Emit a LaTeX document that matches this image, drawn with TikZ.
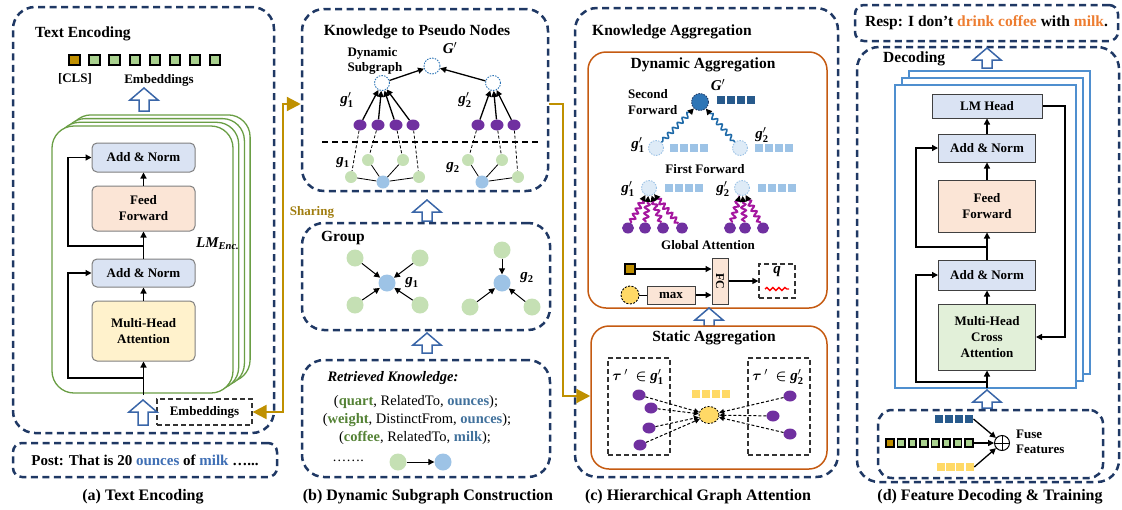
\documentclass[tikz,border=0pt]{standalone}
\usepackage{amsmath,bm}
\usepackage{fontspec}
\setmainfont{Liberation Serif}
\usetikzlibrary{arrows.meta,shapes.geometric,decorations.pathmorphing,calc}
\definecolor{navy}{HTML}{1F3864}
\definecolor{gold}{HTML}{BF9000}
\definecolor{goldtxt}{HTML}{A07D10}
\definecolor{encgreen}{HTML}{6A9E45}
\definecolor{decblue}{HTML}{4F8FCF}
\definecolor{fillblue}{HTML}{DAE3F3}
\definecolor{fillpeach}{HTML}{FBE5D6}
\definecolor{fillyellow}{HTML}{FFF2CC}
\definecolor{fillgreen}{HTML}{E2F0D9}
\definecolor{ngreen}{HTML}{C5E0B4}
\definecolor{nblue}{HTML}{9DC3E6}
\definecolor{nlight}{HTML}{DEEBF7}
\definecolor{npurple}{HTML}{7030A0}
\definecolor{magwave}{HTML}{A5169F}
\definecolor{wavblue}{HTML}{1F6AA8}
\definecolor{orangebox}{HTML}{C55A11}
\definecolor{txtblue}{HTML}{3E6EB4}
\definecolor{txtblueb}{HTML}{41719C}
\definecolor{txtgreen}{HTML}{548235}
\definecolor{txtorange}{HTML}{ED7D31}
\definecolor{embgreen}{HTML}{A9D18E}
\definecolor{sqgold}{HTML}{BF8F00}
\definecolor{sqdark}{HTML}{285A8C}
\definecolor{sqlight}{HTML}{9DC3E6}
\definecolor{sqyellow}{HTML}{FFD966}
\definecolor{gpblue}{HTML}{2E75B6}
\definecolor{arrowblue}{HTML}{3A66A8}
\newcommand\fs[2]{\fontsize{#1}{#2}\selectfont}
\newcommand\gp[1]{{\bfseries\itshape g}$^{\prime}_{\mathbf{#1}}$}
\newcommand\gs[1]{{\bfseries\itshape g}$_{\mathbf{#1}}$}
\newcommand\hollowup[3]{\draw[harrow] ({#1-5},{#2}) -- ({#1-5},{#3+12}) -- ({#1-14},{#3+12}) -- ({#1},{#3}) -- ({#1+14},{#3+12}) -- ({#1+5},{#3+12}) -- ({#1+5},{#2}) -- cycle;}
\tikzset{
  panelbox/.style={draw=navy, line width=2.5pt, dash pattern=on 7pt off 4.5pt, rounded corners=22pt, inner sep=0pt},
  tbox/.style={panelbox, rounded corners=9pt},
  ttl/.style={font=\fs{15.5}{18}\bfseries, inner sep=0pt},
  captxt/.style={font=\fs{16}{19}\bfseries, inner sep=0pt},
  lbl/.style={font=\fs{13}{15.5}\bfseries, inner sep=0pt, align=center},
  glbl/.style={font=\fs{15}{17}, inner sep=0pt},
  blk/.style={draw=black!50, line width=1pt, rounded corners=5pt, align=center, font=\fs{13}{16}\bfseries, inner sep=0pt},
  dblk/.style={draw=black!75, line width=1pt, align=center, font=\fs{13}{16}\bfseries, inner sep=0pt},
  arr/.style={-{Triangle[length=6pt,width=6pt]}, line width=1.3pt},
  darr/.style={-{Triangle[length=5pt,width=5pt]}, line width=1pt, dash pattern=on 3pt off 2pt},
  emb/.style={draw=black, line width=2pt, minimum size=10.5pt, inner sep=0pt, fill=embgreen},
  smemb/.style={emb, line width=1.8pt, minimum size=7.5pt},
  sqr/.style={minimum size=8pt, inner sep=0pt},
  enclayer/.style={draw=encgreen, line width=1.3pt, rounded corners=22pt, fill=white},
  declayer/.style={draw=decblue, line width=1.8pt, fill=white},
  dcirc/.style={circle, draw=gpblue, dash pattern=on 1.5pt off 1.2pt, line width=0.9pt, fill=white, minimum size=15pt, inner sep=0pt},
  pnode/.style={ellipse, fill=npurple, minimum width=13pt, minimum height=11pt, inner sep=0pt},
  gnode/.style={circle, fill=ngreen, minimum size=12pt, inner sep=0pt},
  bnode/.style={circle, fill=nblue, minimum size=13pt, inner sep=0pt},
  harrow/.style={draw=arrowblue, line width=1.5pt, fill=white, line join=miter},
  goldline/.style={draw=gold, line width=2.2pt},
  dashbox/.style={draw=black!80, line width=1.3pt, dash pattern=on 5pt off 3pt, inner sep=0pt},
  obox/.style={draw=orangebox, line width=1.5pt, rounded corners=18pt, inner sep=0pt},
  wavb/.style={decorate, decoration={snake, amplitude=2.2pt, segment length=7pt, post length=5pt, pre length=2pt}, draw=wavblue, line width=1.6pt},
  wavm/.style={decorate, decoration={snake, amplitude=2.3pt, segment length=6pt, post length=5pt, pre length=1pt}, draw=magwave, line width=2pt},
  blacktip/.style={-{Triangle[length=6pt,width=6pt,color=black]}},
}
\begin{document}
\begin{tikzpicture}[x=1pt,y=-1pt]
\useasboundingbox (0,0) rectangle (1122,509);
% ================= (a) =================
\node[panelbox, minimum width=261pt, minimum height=426pt] (panA) at (143.5,220) {};
\node[ttl, anchor=west] (tA) at (35,34) {Text Encoding};
\node[emb, fill=sqgold] (ea0) at (74.5,60) {};
\foreach \i in {1,...,7} \node[emb] (ea\i) at ({74.5+20.1*\i},60) {};
\node[lbl] (clsl) at (75,79) {[CLS]};
\node[lbl] (embl) at (159,80) {Embeddings};
\hollowup{144}{111}{88}
\foreach \k in {3,2,1,0} \draw[enclayer] ({52+5.7*\k},{126-3.7*\k}) rectangle ({233+5.7*\k},{393-3.7*\k});
\node[blk, fill=fillblue, minimum width=103pt, minimum height=29pt] (an2) at (143.5,157.5) {Add \& Norm};
\node[blk, fill=fillpeach, minimum width=103pt, minimum height=45pt] (ff) at (143.5,208.5) {Feed\\Forward};
\node[blk, fill=fillblue, minimum width=103pt, minimum height=28pt] (an1) at (143.5,273) {Add \& Norm};
\node[blk, fill=fillyellow, minimum width=103pt, minimum height=60pt] (mha) at (143.5,331) {Multi-Head\\Attention};
\coordinate (inA) at (143.5,395);
\coordinate (rA1) at (143.5,378);
\coordinate (rA2) at (143.5,246);
\draw[arr] (inA) -- (mha);
\draw[arr] (mha) -- (an1);
\draw[arr] (an1) -- (ff);
\draw[arr] (ff) -- (an2);
\draw[arr] (rA1) -- ++(-75.5,0) |- (an1.west);
\draw[arr] (rA2) -- ++(-75.5,0) |- (an2.west);
\node[anchor=west, font=\fs{15}{18}, inner sep=0pt] (lmenc) at (196,244) {{\bfseries\itshape LM}$_{\textbf{\textit{Enc.}}}$};
\node[dashbox, minimum width=95pt, minimum height=26pt, font=\fs{13}{15}\bfseries] (embbox) at (204.5,412) {Embeddings};
\hollowup{143}{425}{400}
\node[tbox, minimum width=264pt, minimum height=34pt, font=\fs{15}{18}\bfseries] (post) at (145,460) {Post: That is 20 \textcolor{txtblue}{ounces} of \textcolor{txtblue}{milk} …...};
\node[captxt] (capA) at (143,497) {(a) Text Encoding};
% ================= (b) =================
\node[panelbox, minimum width=246pt, minimum height=182pt] (kbox) at (425,100) {};
\node[ttl] (tB) at (417,32) {Knowledge to Pseudo Nodes};
\node[glbl] (Gpl) at (450,48) {{\bfseries\itshape G}$^{\prime}$};
\node[dcirc, minimum size=16pt] (Gp) at (432,66) {};
\node[lbl, align=left] (dsub) at (375,61) {Dynamic\\Subgraph};
\node[dcirc] (g1p) at (382,83) {};
\node[dcirc] (g2p) at (493,83) {};
\draw[arr] (g1p) -- (Gp);
\draw[arr] (g2p) -- (Gp);
\node[glbl] (l1p) at (347,100) {\gp{1}};
\node[glbl] (l2p) at (465,100) {\gp{2}};
\foreach \n/\x in {1/360,2/378,3/396,4/413,5/478,6/497,7/514} \node[pnode] (kp\n) at (\x,125) {};
\foreach \n in {1,...,4} \draw[arr] (kp\n) -- (g1p);
\foreach \n in {5,6,7} \draw[arr] (kp\n) -- (g2p);
\coordinate (dlA) at (322,142);
\coordinate (dlB) at (538,142);
\draw[line width=1.2pt, dash pattern=on 6pt off 4pt] (dlA) -- (dlB);
\node[bnode] (kb1) at (383,182) {};
\node[gnode] (kgA) at (368,160) {};
\node[gnode] (kgB) at (403,160) {};
\node[gnode] (kgC) at (351,177) {};
\node[gnode] (kgD) at (419,177) {};
\node[bnode] (kb2) at (482,182) {};
\node[gnode] (kgE) at (468,160) {};
\node[gnode] (kgF) at (502,160) {};
\node[gnode] (kgG) at (518,177) {};
\foreach \g in {kgA,kgB,kgC,kgD} \draw[line width=0.8pt] (kb1) -- (\g);
\foreach \g in {kgE,kgF,kgG} \draw[line width=0.8pt] (kb2) -- (\g);
\foreach \p/\g in {kp1/kgC,kp2/kgA,kp3/kgB,kp4/kgD,kp5/kgE,kp6/kgF,kp7/kgG} \draw[line width=0.8pt, dash pattern=on 3pt off 2pt] (\p) -- (\g);
\node[glbl] (l1) at (343,163) {\gs{1}};
\node[glbl] (l2) at (453,168) {\gs{2}};
\node[font=\fs{13}{15}\bfseries, text=goldtxt, inner sep=0pt] (shr) at (312,212) {Sharing};
\hollowup{427}{221}{200}
% group
\node[panelbox, minimum width=248pt, minimum height=107pt] (grp) at (426,276.5) {};
\node[ttl] (tG) at (343,238) {Group};
\node[bnode, minimum size=17pt] (qb1) at (387,283) {};
\node[gnode, minimum size=17pt] (qg1) at (355,258) {};
\node[gnode, minimum size=17pt] (qg2) at (420,258) {};
\node[gnode, minimum size=17pt] (qg3) at (355,305) {};
\node[gnode, minimum size=17pt] (qg4) at (420,305) {};
\foreach \g in {qg1,qg2,qg3,qg4} \draw[arr, line width=1pt] (\g) -- (qb1);
\node[glbl] (ql1) at (412,283) {\gs{1}};
\node[bnode, minimum size=17pt] (qb2) at (502,283) {};
\node[gnode, minimum size=17pt] (qg5) at (502,250) {};
\node[gnode, minimum size=17pt] (qg6) at (470,307) {};
\node[gnode, minimum size=17pt] (qg7) at (532,307) {};
\foreach \g in {qg5,qg6,qg7} \draw[arr, line width=1pt] (\g) -- (qb2);
\node[glbl] (ql2) at (527,278) {\gs{2}};
\hollowup{427}{353}{333}
% retrieved
\node[panelbox, minimum width=248pt, minimum height=117pt] (ret) at (426,418.5) {};
\node[font=\fs{14.5}{17}\bfseries\itshape, inner sep=0pt] (rt) at (393,378) {Retrieved Knowledge:};
\node[font=\fs{14.5}{17}, inner sep=0pt] (kl1) at (416,402) {(\textbf{\textcolor{txtgreen}{quart}}, RelatedTo, \textbf{\textcolor{txtblueb}{ounces}});};
\node[font=\fs{14.5}{17}, inner sep=0pt] (kl2) at (417,420) {(\textbf{\textcolor{txtgreen}{weight}}, DistinctFrom, \textbf{\textcolor{txtblueb}{ounces}});};
\node[font=\fs{14.5}{17}, inner sep=0pt] (kl3) at (415,438) {(\textbf{\textcolor{txtgreen}{coffee}}, RelatedTo, \textbf{\textcolor{txtblueb}{milk}});};
\node[font=\fs{14}{16}, inner sep=0pt] (kdots) at (348,461) {…….};
\node[gnode, minimum size=17pt] (rg) at (398,462) {};
\node[bnode, minimum size=17pt] (rb) at (443,462) {};
\draw[arr, line width=1pt] (rg) -- (rb);
\node[captxt] (capB) at (428,497) {(b) Dynamic Subgraph Construction};
% ================= (c) =================
\node[panelbox, minimum width=263pt, minimum height=469pt] (panC) at (706.5,242.5) {};
\node[ttl, anchor=west] (tC) at (592,32) {Knowledge Aggregation};
\node[obox, minimum width=239pt, minimum height=256pt] (dyn) at (707.5,180) {};
\node[ttl] (tDyn) at (703,65) {Dynamic Aggregation};
\node[glbl] (Gql) at (718,85) {{\bfseries\itshape G}$^{\prime}$};
\node[circle, fill=gpblue, draw=navy, dash pattern=on 1.5pt off 1.2pt, line width=0.8pt, minimum size=17pt, inner sep=0pt] (Gq) at (700,102) {};
\foreach \i in {0,...,3} \node[sqr, fill=sqdark] (Gs\i) at ({721+10*\i},100) {};
\node[lbl, align=left, anchor=west] (sfw) at (628,102) {Second\\Forward};
\node[dcirc, fill=nlight, draw=nblue] (g1q) at (656,148) {};
\node[dcirc, fill=nlight, draw=nblue] (g2q) at (740,148) {};
\foreach \i in {0,...,3} \node[sqr, fill=sqlight] (s1q\i) at ({674+10*\i},148) {};
\foreach \i in {0,...,3} \node[sqr, fill=sqlight] (s2q\i) at ({759+10*\i},148) {};
\draw[wavb, blacktip] (g1q) -- (Gq);
\draw[wavb, blacktip] (g2q) -- (Gq);
\node[glbl] (lq1) at (638,145) {\gp{1}};
\node[glbl] (lq2) at (762,135) {\gp{2}};
\node[lbl] (ffw) at (705,169) {First Forward};
\node[dcirc, fill=nlight, draw=nblue] (g1r) at (649,188) {};
\node[dcirc, fill=nlight, draw=nblue] (g2r) at (742,188) {};
\foreach \i in {0,...,3} \node[sqr, fill=sqlight] (s1r\i) at ({669+10*\i},188) {};
\foreach \i in {0,...,3} \node[sqr, fill=sqlight] (s2r\i) at ({762+10*\i},188) {};
\node[glbl] (lr1) at (628,189) {\gp{1}};
\node[glbl] (lr2) at (723,189) {\gp{2}};
\foreach \n/\x in {1/628,2/645,3/663,4/682,5/730,6/745,7/763} \node[pnode, minimum width=12pt, minimum height=11pt] (cp\n) at (\x,228) {};
\foreach \n in {1,...,4} \draw[wavm, blacktip] (cp\n) -- (g1r);
\foreach \n in {5,6,7} \draw[wavm, blacktip] (cp\n) -- (g2r);
\node[lbl] (gatt) at (708,245) {Global Attention};
\node[emb, fill=sqgold, minimum size=10pt] (gsq) at (630,269) {};
\node[circle, fill=sqyellow, draw=black, dash pattern=on 2pt off 1.5pt, line width=0.9pt, minimum size=18pt, inner sep=0pt] (ycirc) at (630,295) {};
\node[dblk, fill=fillpeach, minimum width=48pt, minimum height=18pt] (maxb) at (671,295) {max};
\node[dblk, fill=fillpeach, minimum width=16pt, minimum height=46pt] (fc) at (720,281) {};
\node[rotate=-90, font=\fs{12}{14}\bfseries, inner sep=0pt] (fct) at (fc.center) {FC};
\draw[arr] (gsq) -- (gsq -| fc.west);
\draw[line width=1pt] (ycirc) -- (maxb);
\draw[arr] (maxb) -- (maxb -| fc.west);
\node[dashbox, minimum width=36pt, minimum height=34pt] (qb) at (777,281) {};
\draw[arr] (fc) -- (qb);
\node[font=\fs{15}{17}\bfseries\itshape, inner sep=0pt] (ql) at (777,272) {q};
\coordinate (qwA) at (765,289);
\coordinate (qwB) at (789,289);
\draw[red, line width=1.4pt, decorate, decoration={snake, amplitude=1.5pt, segment length=6pt}] (qwA) -- (qwB);
\hollowup{709}{326}{308}
\node[obox, minimum width=236pt, minimum height=143pt] (stat) at (709,397.5) {};
\node[ttl] (tSt) at (714,338) {Static Aggregation};
\node[dashbox, minimum width=62pt, minimum height=97pt] (lbox) at (639,406.5) {};
\node[dashbox, minimum width=62pt, minimum height=97pt] (rbox) at (779,406.5) {};
\node[glbl] (tl) at (638,377) {$\bm{\tau}\,{}^{\prime}\ \bm{\in}$ \gp{1}};
\node[glbl] (tr) at (778,377) {$\bm{\tau}\,{}^{\prime}\ \bm{\in}$ \gp{2}};
\foreach \i in {0,...,3} \node[sqr, fill=sqyellow] (ys\i) at ({696+10*\i},394) {};
\node[ellipse, fill=sqyellow, draw=black, dash pattern=on 2pt off 1.5pt, line width=0.8pt, minimum width=20pt, minimum height=17pt, inner sep=0pt] (yc) at (709,415) {};
\foreach \n/\x/\y in {1/639/395,2/651/408,3/649/428,4/640/445,5/790/396,6/773/416,7/790/434} \node[pnode] (sp\n) at (\x,\y) {};
\foreach \n in {1,...,7} \draw[darr] (sp\n) -- (yc);
\node[captxt] (capC) at (698,497) {(c) Hierarchical Graph Attention};
% gold arrows
\coordinate (gA) at (283,412);
\coordinate (gB) at (283,104);
\draw[goldline, {Triangle[length=14pt,width=14pt]}-{Triangle[length=14pt,width=14pt]}] (embbox.east) -- (gA) -- (gB) -- (kbox.west |- gB);
\coordinate (gC) at (563,104);
\coordinate (gD) at (563,396);
\draw[goldline, -{Triangle[length=14pt,width=14pt]}] (kbox.east |- gC) -- (gC) -- (gD) -- (stat.west |- gD);
% ================= (d) =================
\node[tbox, minimum width=263pt, minimum height=36pt, font=\fs{15.5}{18}\bfseries] (resp) at (986.5,23) {Resp: I don’t \textcolor{txtorange}{drink coffee} with \textcolor{txtorange}{milk}.};
\node[panelbox, minimum width=262pt, minimum height=435pt] (dec) at (988,264.5) {};
\node[ttl, anchor=west] (tD) at (883,59) {Decoding};
\foreach \k in {2,1,0} \draw[declayer] ({895+7*\k},{85-7*\k}) rectangle ({1076+7*\k},{388-7*\k});
\hollowup{987}{68}{48}
\node[dblk, fill=fillblue, minimum width=110pt, minimum height=24pt] (lmh) at (987,106) {LM Head};
\node[dblk, fill=fillblue, minimum width=97pt, minimum height=28pt] (an3) at (987,148) {Add \& Norm};
\node[dblk, fill=fillpeach, minimum width=97pt, minimum height=52pt] (ff2) at (987,206) {Feed\\Forward};
\node[dblk, fill=fillblue, minimum width=97pt, minimum height=30pt] (an4) at (987,275) {Add \& Norm};
\node[dblk, fill=fillgreen, minimum width=97pt, minimum height=66pt] (mhca) at (987,337) {Multi-Head\\Cross\\Attention};
\coordinate (inD) at (987,388);
\coordinate (rD1) at (987,382);
\coordinate (rD2) at (987,247);
\coordinate (lmr) at (1065,106);
\draw[arr] (inD) -- (mhca);
\draw[arr] (mhca) -- (an4);
\draw[arr] (an4) -- (ff2);
\draw[arr] (ff2) -- (an3);
\draw[arr] (an3) -- (lmh);
\draw[arr] (rD1) -- ++(-71,0) |- (an4.west);
\draw[arr] (rD2) -- ++(-71,0) |- (an3.west);
\draw[arr] (lmh.east) -- (lmr) |- (mhca.east);
\hollowup{987}{408}{390}
\node[panelbox, rounded corners=14pt, minimum width=225pt, minimum height=68pt] (fuse) at (990.5,444) {};
\foreach \i in {0,...,3} \node[sqr, fill=sqdark, minimum size=8.5pt] (fd\i) at ({939+10*\i},419) {};
\node[smemb, fill=sqgold] (fe0) at (890,443) {};
\foreach \i in {1,...,7} \node[smemb] (fe\i) at ({890+11.3*\i},443) {};
\foreach \i in {0,...,3} \node[sqr, fill=sqyellow, minimum size=8.5pt] (fy\i) at ({941+9.6*\i},467) {};
\node[circle, draw=black, line width=1pt, minimum size=15pt, inner sep=0pt] (op) at (1002,443) {};
\draw[line width=1pt] (op.north) -- (op.south) (op.west) -- (op.east);
\draw[arr] (fd3.east) -- (op);
\draw[arr] (fe7.east) -- (op);
\draw[arr] (fy3.east) -- (op);
\node[lbl, align=left, anchor=west] (fusel) at (1016,442) {Fuse\\Features};
\node[captxt] (capD) at (990,497) {(d) Feature Decoding \& Training};
\end{tikzpicture}
\end{document}
